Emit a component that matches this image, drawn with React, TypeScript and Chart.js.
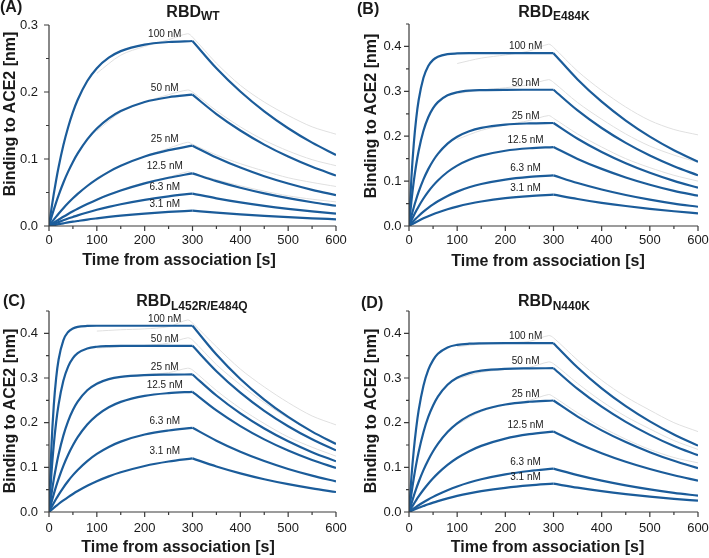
import React, { useEffect, useRef } from "react";
import { Chart, registerables } from "chart.js";

Chart.register(...registerables);

// ---------- data ----------
const TIME = [0, 5, 10, 15, 20, 30, 40, 50, 60, 80, 100, 125, 150, 200, 250, 300, 350, 400, 450, 500, 550, 600];
const RAW_TIME = [100, 150, 200, 250, 290, 300, 350, 400, 450, 500, 550, 600];
const CONC_LABELS = ["100 nM", "50 nM", "25 nM", "12.5 nM", "6.3 nM", "3.1 nM"];
const X_TICK_STEP = 100;
const Y_TICK_STEP = 0.1;

// Panel A: RBD WT
const A_FIT_100 = [0, 0.0251, 0.0479, 0.0687, 0.0876, 0.1204, 0.1474, 0.1699, 0.1884, 0.2164, 0.2356, 0.2512, 0.2610, 0.2708, 0.2746, 0.2761, 0.2354, 0.2007, 0.1711, 0.1459, 0.1244, 0.1061];
const A_FIT_50 = [0, 0.0126, 0.0244, 0.0354, 0.0458, 0.0646, 0.0811, 0.0956, 0.1083, 0.1293, 0.1455, 0.1606, 0.1715, 0.1851, 0.1922, 0.1960, 0.1671, 0.1425, 0.1215, 0.1036, 0.0883, 0.0753];
const A_FIT_25 = [0, 0.0048, 0.0095, 0.0140, 0.0183, 0.0265, 0.0342, 0.0413, 0.0479, 0.0597, 0.0699, 0.0808, 0.0898, 0.1037, 0.1132, 0.1199, 0.1023, 0.0872, 0.0743, 0.0634, 0.0540, 0.0461];
const A_FIT_12 = [0, 0.0024, 0.0048, 0.0072, 0.0094, 0.0138, 0.0180, 0.0220, 0.0258, 0.0328, 0.0393, 0.0465, 0.0529, 0.0636, 0.0720, 0.0786, 0.0670, 0.0571, 0.0487, 0.0415, 0.0354, 0.0302];
const A_FIT_6 = [0, 0.0015, 0.0030, 0.0044, 0.0058, 0.0085, 0.0111, 0.0135, 0.0159, 0.0202, 0.0242, 0.0286, 0.0325, 0.0391, 0.0443, 0.0484, 0.0413, 0.0352, 0.0300, 0.0256, 0.0218, 0.0186];
const A_FIT_3 = [0, 0.0007, 0.0014, 0.0021, 0.0027, 0.0040, 0.0053, 0.0064, 0.0075, 0.0096, 0.0114, 0.0135, 0.0154, 0.0185, 0.0210, 0.0229, 0.0199, 0.0174, 0.0152, 0.0132, 0.0115, 0.0100];
const A_RAW_100 = [0.228, 0.255, 0.268, 0.278, 0.287, 0.282, 0.243, 0.21, 0.185, 0.165, 0.148, 0.137];
const A_RAW_50 = [0.142, 0.17, 0.185, 0.196, 0.203, 0.2, 0.172, 0.148, 0.128, 0.112, 0.099, 0.09];
const A_RAW_25 = [0.072, 0.09, 0.104, 0.116, 0.125, 0.122, 0.106, 0.093, 0.082, 0.072, 0.065, 0.059];
const A_RAW_12 = [0.04, 0.054, 0.065, 0.073, 0.081, 0.079, 0.069, 0.06, 0.052, 0.045, 0.04, 0.036];

// Panel B: RBD E484K
const B_FIT_100 = [0, 0.1068, 0.1840, 0.2398, 0.2801, 0.3302, 0.3564, 0.3701, 0.3772, 0.3829, 0.3844, 0.3850, 0.3850, 0.3850, 0.3850, 0.3850, 0.3265, 0.2769, 0.2349, 0.1992, 0.1689, 0.1432];
const B_FIT_50 = [0, 0.0550, 0.1001, 0.1369, 0.1671, 0.2121, 0.2422, 0.2624, 0.2760, 0.2911, 0.2979, 0.3015, 0.3027, 0.3034, 0.3035, 0.3035, 0.2574, 0.2183, 0.1851, 0.1570, 0.1331, 0.1129];
const B_FIT_25 = [0, 0.0219, 0.0417, 0.0596, 0.0758, 0.1038, 0.1267, 0.1454, 0.1607, 0.1836, 0.1989, 0.2111, 0.2185, 0.2258, 0.2285, 0.2294, 0.1944, 0.1649, 0.1399, 0.1186, 0.1006, 0.0853];
const B_FIT_12 = [0, 0.0121, 0.0233, 0.0338, 0.0436, 0.0613, 0.0766, 0.0899, 0.1015, 0.1203, 0.1346, 0.1476, 0.1567, 0.1677, 0.1732, 0.1759, 0.1495, 0.1272, 0.1082, 0.0920, 0.0783, 0.0675];
const B_FIT_6 = [0, 0.0060, 0.0118, 0.0172, 0.0223, 0.0319, 0.0404, 0.0482, 0.0551, 0.0670, 0.0766, 0.0862, 0.0935, 0.1035, 0.1094, 0.1128, 0.0957, 0.0813, 0.0691, 0.0587, 0.0499, 0.0429];
const B_FIT_3 = [0, 0.0031, 0.0062, 0.0091, 0.0118, 0.0170, 0.0218, 0.0262, 0.0302, 0.0373, 0.0433, 0.0495, 0.0545, 0.0619, 0.0667, 0.0698, 0.0601, 0.0517, 0.0445, 0.0382, 0.0329, 0.0283];
const B_RAW_100 = [0.362, 0.374, 0.381, 0.39, 0.405, 0.398, 0.345, 0.302, 0.265, 0.235, 0.215, 0.203];
const B_RAW_50 = [0.295, 0.303, 0.308, 0.315, 0.326, 0.32, 0.275, 0.238, 0.205, 0.178, 0.158, 0.142];
const B_RAW_25 = [0.193, 0.213, 0.225, 0.235, 0.246, 0.24, 0.205, 0.176, 0.15, 0.13, 0.113, 0.1];

// Panel C: RBD L452R/E484Q
const C_FIT_100 = [0, 0.1444, 0.2388, 0.3005, 0.3408, 0.3844, 0.4031, 0.4110, 0.4145, 0.4165, 0.4170, 0.4170, 0.4170, 0.4170, 0.4170, 0.4170, 0.3525, 0.2979, 0.2518, 0.2128, 0.1799, 0.1520];
const C_FIT_50 = [0, 0.0852, 0.1508, 0.2015, 0.2405, 0.2938, 0.3255, 0.3444, 0.3556, 0.3662, 0.3700, 0.3714, 0.3719, 0.3720, 0.3720, 0.3720, 0.3153, 0.2672, 0.2265, 0.1920, 0.1627, 0.1380];
const C_FIT_25 = [0, 0.0389, 0.0729, 0.1026, 0.1285, 0.1710, 0.2034, 0.2282, 0.2470, 0.2725, 0.2873, 0.2975, 0.3026, 0.3066, 0.3076, 0.3079, 0.2608, 0.2208, 0.1869, 0.1583, 0.1340, 0.1134];
const C_FIT_12 = [0, 0.0209, 0.0401, 0.0579, 0.0743, 0.1034, 0.1282, 0.1493, 0.1674, 0.1958, 0.2164, 0.2345, 0.2466, 0.2601, 0.2662, 0.2690, 0.2273, 0.1923, 0.1626, 0.1376, 0.1164, 0.0985];
const C_FIT_6 = [0, 0.0104, 0.0203, 0.0297, 0.0385, 0.0548, 0.0694, 0.0825, 0.0942, 0.1141, 0.1301, 0.1457, 0.1576, 0.1734, 0.1825, 0.1885, 0.1597, 0.1349, 0.1140, 0.0963, 0.0814, 0.0687];
const C_FIT_3 = [0, 0.0047, 0.0092, 0.0136, 0.0179, 0.0259, 0.0334, 0.0404, 0.0469, 0.0587, 0.0689, 0.0798, 0.0889, 0.1031, 0.1130, 0.1200, 0.1020, 0.0866, 0.0734, 0.0623, 0.0528, 0.0448];
const C_RAW_100 = [0.405, 0.408, 0.41, 0.415, 0.43, 0.423, 0.37, 0.32, 0.28, 0.245, 0.215, 0.195];
const C_RAW_50 = [0.367, 0.37, 0.373, 0.378, 0.39, 0.385, 0.33, 0.285, 0.245, 0.21, 0.18, 0.155];
const C_RAW_25 = [0.29, 0.303, 0.308, 0.312, 0.322, 0.318, 0.272, 0.232, 0.198, 0.168, 0.145, 0.125];

// Panel D: RBD N440K
const D_FIT_100 = [0, 0.0777, 0.1394, 0.1884, 0.2274, 0.2829, 0.3180, 0.3401, 0.3541, 0.3685, 0.3742, 0.3768, 0.3776, 0.3780, 0.3780, 0.3780, 0.3235, 0.2768, 0.2369, 0.2028, 0.1735, 0.1486];
const D_FIT_50 = [0, 0.0407, 0.0762, 0.1072, 0.1344, 0.1787, 0.2127, 0.2385, 0.2583, 0.2849, 0.3004, 0.3110, 0.3164, 0.3206, 0.3216, 0.3219, 0.2755, 0.2358, 0.2018, 0.1727, 0.1478, 0.1270];
const D_FIT_25 = [0, 0.0188, 0.0362, 0.0523, 0.0672, 0.0937, 0.1164, 0.1359, 0.1526, 0.1791, 0.1985, 0.2157, 0.2274, 0.2407, 0.2468, 0.2496, 0.2136, 0.1828, 0.1565, 0.1339, 0.1146, 0.0980];
const D_FIT_12 = [0, 0.0094, 0.0183, 0.0268, 0.0349, 0.0498, 0.0633, 0.0755, 0.0865, 0.1054, 0.1208, 0.1362, 0.1481, 0.1644, 0.1742, 0.1801, 0.1540, 0.1317, 0.1126, 0.0963, 0.0823, 0.0701];
const D_FIT_6 = [0, 0.0040, 0.0078, 0.0115, 0.0151, 0.0218, 0.0281, 0.0339, 0.0393, 0.0489, 0.0572, 0.0660, 0.0732, 0.0842, 0.0918, 0.0970, 0.0825, 0.0701, 0.0596, 0.0506, 0.0430, 0.0366];
const D_FIT_3 = [0, 0.0024, 0.0048, 0.0071, 0.0093, 0.0134, 0.0174, 0.0210, 0.0244, 0.0306, 0.0360, 0.0417, 0.0466, 0.0542, 0.0596, 0.0634, 0.0544, 0.0467, 0.0401, 0.0344, 0.0295, 0.0254];
const D_RAW_100 = [0.37, 0.376, 0.379, 0.382, 0.395, 0.39, 0.34, 0.295, 0.258, 0.228, 0.2, 0.18];
const D_RAW_50 = [0.298, 0.313, 0.319, 0.324, 0.336, 0.332, 0.288, 0.248, 0.214, 0.186, 0.16, 0.14];
const D_RAW_25 = [0.196, 0.225, 0.24, 0.25, 0.263, 0.258, 0.222, 0.19, 0.163, 0.14, 0.122, 0.11];

// ---------- styling ----------
const FONT = '"Liberation Sans", Arial, Helvetica, sans-serif';
const BLUE = "#1b5c9a";
const GRAY = "#e0e0e0";
const TEXT = "#1a1a1a";
const AXIS = "#3a3a3a";

type Geom = {
  left: number; top: number; w: number; h: number;
  yW: number; padR: number; padT: number; xH: number;
  yPad: number; xPad: number;
};

const axesPlugin = {
  id: "bliAxes",
  afterDraw(chart: any) {
    const { ctx, chartArea: ca, scales } = chart;
    const x = scales.x, y = scales.y;
    ctx.save();
    ctx.strokeStyle = AXIS;
    ctx.lineWidth = 1.2;
    ctx.beginPath();
    ctx.moveTo(ca.left, ca.top);
    ctx.lineTo(ca.left, ca.bottom);
    ctx.lineTo(ca.right, ca.bottom);
    const xMinor = X_TICK_STEP / 2;
    for (let k = 0; k * xMinor <= x.max + 1e-9; k++) {
      const px = x.getPixelForValue(k * xMinor);
      const len = k % 2 === 0 ? 5 : 3;
      ctx.moveTo(px, ca.bottom);
      ctx.lineTo(px, ca.bottom + len);
    }
    const yMinor = Y_TICK_STEP / 2;
    for (let k = 0; k * yMinor <= y.max + 1e-9; k++) {
      const py = y.getPixelForValue(k * yMinor);
      const len = k % 2 === 0 ? 5 : 3;
      ctx.moveTo(ca.left, py);
      ctx.lineTo(ca.left - len, py);
    }
    ctx.stroke();
    ctx.restore();
  },
};

const labelPlugin = {
  id: "concLabels",
  afterDatasetsDraw(chart: any, _args: any, opts: any) {
    const { ctx, scales } = chart;
    const fits: number[][] = opts.fits || [];
    const peakIdx = TIME.indexOf(300);
    ctx.save();
    ctx.font = `10px ${FONT}`;
    ctx.fillStyle = TEXT;
    ctx.textAlign = "center";
    ctx.textBaseline = "alphabetic";
    fits.forEach((s, i) => {
      const py = scales.y.getPixelForValue(s[peakIdx]) - 4;
      const px = scales.x.getPixelForValue(242);
      ctx.fillText(CONC_LABELS[i], px, py);
    });
    ctx.restore();
  },
};

function Panel({ fits, raws, yMax, geom }: { fits: number[][]; raws: number[][]; yMax: number; geom: Geom }) {
  const ref = useRef<HTMLCanvasElement>(null);
  useEffect(() => {
    if (!ref.current) return;
    const split = TIME.indexOf(300);
    const datasets: any[] = [];
    fits.forEach((s) => {
      datasets.push({
        data: TIME.slice(0, split + 1).map((t, j) => ({ x: t, y: s[j] })),
        borderColor: BLUE, borderWidth: 2.2, pointRadius: 0, fill: false,
        cubicInterpolationMode: "monotone",
      });
      datasets.push({
        data: TIME.slice(split).map((t, j) => ({ x: t, y: s[split + j] })),
        borderColor: BLUE, borderWidth: 2.2, pointRadius: 0, fill: false,
        cubicInterpolationMode: "monotone",
      });
    });
    raws.forEach((r) => {
      datasets.push({
        data: RAW_TIME.map((t, j) => ({ x: t, y: r[j] })),
        borderColor: GRAY, borderWidth: 1, pointRadius: 0, fill: false, tension: 0.3,
      });
    });
    const chart = new Chart(ref.current, {
      type: "line",
      data: { datasets },
      options: {
        animation: false,
        responsive: false,
        events: [],
        layout: { padding: { left: 0, right: geom.padR, top: geom.padT, bottom: 0 } },
        plugins: {
          legend: { display: false },
          tooltip: { enabled: false },
          // @ts-ignore
          concLabels: { fits },
        },
        scales: {
          x: {
            type: "linear", min: 0, max: 600,
            ticks: {
              stepSize: X_TICK_STEP, font: { family: FONT, size: 13 }, color: TEXT,
              padding: geom.xPad, maxRotation: 0, autoSkip: false,
            },
            grid: { display: false, drawTicks: false },
            border: { display: false },
            afterFit: (s: any) => { s.height = geom.xH; s.paddingLeft = 0; s.paddingRight = 0; },
          },
          y: {
            type: "linear", min: 0, max: yMax,
            ticks: {
              stepSize: Y_TICK_STEP, includeBounds: false, font: { family: FONT, size: 13 }, color: TEXT,
              padding: geom.yPad, callback: (v: any) => Number(v).toFixed(1),
            },
            grid: { display: false, drawTicks: false },
            border: { display: false },
            afterFit: (s: any) => { s.width = geom.yW; s.paddingTop = 0; s.paddingBottom = 0; },
          },
        },
      } as any,
      plugins: [axesPlugin, labelPlugin],
    });
    return () => chart.destroy();
  }, []);
  return (
    <canvas
      ref={ref}
      width={geom.w}
      height={geom.h}
      style={{ position: "absolute", left: geom.left, top: geom.top, width: geom.w, height: geom.h }}
    />
  );
}

const absText = (extra: React.CSSProperties): React.CSSProperties => ({
  position: "absolute",
  fontFamily: FONT,
  fontWeight: "bold",
  fontSize: 16,
  lineHeight: "16px",
  color: TEXT,
  whiteSpace: "nowrap",
  ...extra,
});

function Title({ cx, top, sub }: { cx: number; top: number; sub: string }) {
  return (
    <div style={absText({ left: cx, top, transform: "translateX(-50%)" })}>
      RBD
      <span style={{ fontSize: 12, position: "relative", top: 3.5 }}>{sub}</span>
    </div>
  );
}

function XTitle({ cx, top }: { cx: number; top: number }) {
  return <div style={absText({ left: cx, top, transform: "translateX(-50%)" })}>Time from association [s]</div>;
}

function YTitle({ cx, cy }: { cx: number; cy: number }) {
  return (
    <div style={absText({ left: cx, top: cy, transform: "translate(-50%, -50%) rotate(-90deg)" })}>
      Binding to ACE2 [nm]
    </div>
  );
}

export default function App() {
  const gA: Geom = { left: 0, top: 0, w: 354, h: 279, yW: 49, padR: 18, padT: 25, xH: 53, yPad: 11, xPad: 6.5 };
  const gB: Geom = { left: 355, top: 0, w: 354, h: 279, yW: 54, padR: 11, padT: 24, xH: 53, yPad: 7.5, xPad: 6.7 };
  const gC: Geom = { left: 0, top: 279, w: 354, h: 279, yW: 49, padR: 18, padT: 32, xH: 46, yPad: 11, xPad: 9 };
  const gD: Geom = { left: 355, top: 279, w: 354, h: 279, yW: 54, padR: 11, padT: 32, xH: 46, yPad: 7.5, xPad: 9 };
  return (
    <div style={{ position: "absolute", left: 0, top: 0, width: 709, height: 558, background: "#fff", overflow: "hidden" }}>
      <Panel fits={[A_FIT_100, A_FIT_50, A_FIT_25, A_FIT_12, A_FIT_6, A_FIT_3]} raws={[A_RAW_100, A_RAW_50, A_RAW_25, A_RAW_12]} yMax={0.3} geom={gA} />
      <Panel fits={[B_FIT_100, B_FIT_50, B_FIT_25, B_FIT_12, B_FIT_6, B_FIT_3]} raws={[B_RAW_100, B_RAW_50, B_RAW_25]} yMax={0.45} geom={gB} />
      <Panel fits={[C_FIT_100, C_FIT_50, C_FIT_25, C_FIT_12, C_FIT_6, C_FIT_3]} raws={[C_RAW_100, C_RAW_50, C_RAW_25]} yMax={0.45} geom={gC} />
      <Panel fits={[D_FIT_100, D_FIT_50, D_FIT_25, D_FIT_12, D_FIT_6, D_FIT_3]} raws={[D_RAW_100, D_RAW_50, D_RAW_25]} yMax={0.45} geom={gD} />

      <div style={absText({ left: 0, top: -1 })}>(A)</div>
      <div style={absText({ left: 357, top: 0.5 })}>(B)</div>
      <div style={absText({ left: 3, top: 292.5 })}>(C)</div>
      <div style={absText({ left: 361, top: 294.5 })}>(D)</div>

      <Title cx={193} top={3.5} sub="WT" />
      <Title cx={554} top={3.5} sub="E484K" />
      <Title cx={192} top={293} sub="L452R/E484Q" />
      <Title cx={554} top={293} sub="N440K" />

      <YTitle cx={9.5} cy={114} />
      <YTitle cx={370.5} cy={116} />
      <YTitle cx={9.5} cy={411} />
      <YTitle cx={371} cy={411} />

      <XTitle cx={179} top={251.5} />
      <XTitle cx={548} top={252.5} />
      <XTitle cx={178} top={538.7} />
      <XTitle cx={547.5} top={539} />
    </div>
  );
}
